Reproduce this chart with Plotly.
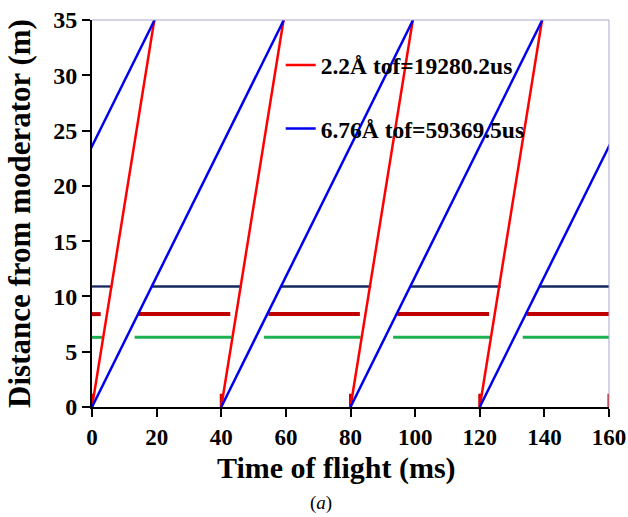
import plotly.graph_objects as go

# ---- data ----
DIST_M = 35.0
red_start_ms = [0, 40, 80, 120]
blue_start_ms = [-40, 0, 40, 80, 120]
red_tof_ms = 19.2802
blue_tof_ms = 59.3695
red_label = "2.2Å tof=19280.2us"
blue_label = "6.76Å tof=59369.5us"

navy_chopper_y = 10.9
navy_chopper_open = [(0, 6.3), (18.6, 46.3), (58.6, 86.4), (98.6, 126.5), (138.6, 160)]
red_chopper_y = 8.4
red_chopper_open = [(0, 2.7), (14.4, 42.8), (54.6, 82.9), (94.5, 122.9), (134.6, 160)]
green_chopper_y = 6.3
green_chopper_open = [(0, 3.1), (13.2, 43.1), (53.2, 83.1), (93.2, 123.3), (133.3, 160)]

pulse_t_ms = [0, 40, 80, 120, 160]
pulse_h_m = 1.2

x_ticks = [0, 20, 40, 60, 80, 100, 120, 140, 160]
y_ticks = [0, 5, 10, 15, 20, 25, 30, 35]

x_title = "Time of flight (ms)"
y_title = "Distance from moderator (m)"
panel_label = "(<i>a</i>)"

FONT = "Liberation Serif"


def sawtooth(starts, tof):
    xs, ys = [], []
    for s in starts:
        xs += [s, s + tof, None]
        ys += [0, DIST_M, None]
    return xs, ys


def hsegs(segs, yv):
    xs, ys = [], []
    for a, b in segs:
        xs += [a, b, None]
        ys += [yv, yv, None]
    return xs, ys


fig = go.Figure()

for segs, yv, col, w in [
    (navy_chopper_open, navy_chopper_y, "#14285e", 2.3),
    (red_chopper_open, red_chopper_y, "#c00000", 4),
    (green_chopper_open, green_chopper_y, "#1db050", 3),
]:
    xs, ys = hsegs(segs, yv)
    fig.add_trace(go.Scatter(x=xs, y=ys, mode="lines", line=dict(color=col, width=w),
                             showlegend=False, hoverinfo="skip"))

px, py = [], []
for t in pulse_t_ms:
    px += [t, t, None]
    py += [0, pulse_h_m, None]
fig.add_trace(go.Scatter(x=px, y=py, mode="lines", line=dict(color="#d00000", width=3),
                         showlegend=False, hoverinfo="skip"))

bx, by = sawtooth(blue_start_ms, blue_tof_ms)
rx, ry = sawtooth(red_start_ms, red_tof_ms)
fig.add_trace(go.Scatter(x=rx, y=ry, mode="lines", line=dict(color="#ff0000", width=2.5),
                         name=red_label, legendgroup="r"))
fig.add_trace(go.Scatter(x=bx, y=by, mode="lines", line=dict(color="#0000ee", width=2.5),
                         name=blue_label, legendgroup="b"))

axis_common = dict(showline=True, linecolor="black", linewidth=2, ticks="outside",
                   ticklen=8, tickwidth=2, tickcolor="black", showgrid=False, zeroline=False,
                   automargin=False)

fig.update_xaxes(range=[0, 160], tickvals=x_ticks, **axis_common,
                 tickfont=dict(family=FONT, size=23, color="black", weight="bold"))
fig.update_yaxes(range=[0, 35], tickvals=y_ticks, **axis_common,
                 tickfont=dict(family=FONT, size=24, color="black", weight="bold"),
                 title=dict(text=y_title, standoff=13,
                            font=dict(family=FONT, size=31, color="black", weight="bold")))

# x-axis title (offset left of plot centre as in the reference)
fig.add_annotation(text=x_title, xref="paper", yref="paper", x=0.472, y=-0.158,
                   xanchor="center", yanchor="middle", showarrow=False,
                   font=dict(family=FONT, size=30, color="black", weight="bold"))

# light top/right frame
fig.add_shape(type="line", xref="paper", yref="paper", x0=0, x1=1, y0=1, y1=1,
              line=dict(color="#a8a8cc", width=1))
fig.add_shape(type="line", xref="paper", yref="paper", x0=1, x1=1, y0=0, y1=1,
              line=dict(color="#a8a8cc", width=1))

fig.add_annotation(text=panel_label, xref="paper", yref="paper", x=0.443, y=-0.248,
                   xanchor="center", yanchor="middle",
                   showarrow=False, font=dict(family=FONT, size=19, color="black"))

fig.update_layout(
    width=628, height=517,
    margin=dict(l=92, r=19, t=20, b=110),
    paper_bgcolor="white", plot_bgcolor="white",
    legend=dict(x=0.365, y=0.94, xanchor="left", yanchor="top", bgcolor="rgba(0,0,0,0)",
                tracegroupgap=30, font=dict(family=FONT, size=23.5, color="black", weight="bold")),
)

fig.write_html("out.html")
